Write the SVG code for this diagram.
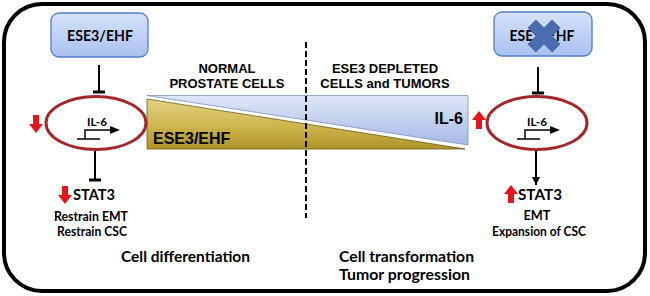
<svg xmlns="http://www.w3.org/2000/svg" width="650" height="296" viewBox="0 0 650 296">
<defs>
<linearGradient id="boxG" x1="0" y1="0" x2="0" y2="1">
<stop offset="0" stop-color="#d6e2fa"/>
<stop offset="1" stop-color="#a9c1f0"/>
</linearGradient>
<linearGradient id="blueG" x1="0" y1="0" x2="0" y2="1">
<stop offset="0" stop-color="#dfe7f8"/>
<stop offset="1" stop-color="#a6b9e6"/>
</linearGradient>
<linearGradient id="goldG" x1="0" y1="0" x2="0" y2="1">
<stop offset="0" stop-color="#e4d384"/>
<stop offset="0.55" stop-color="#cdb44c"/>
<stop offset="1" stop-color="#ae9329"/>
</linearGradient>
<path id="arrDown" d="M4,0 H10 V9 H14 L7,18 L0,9 H4 Z" fill="#e8141b"/>
<path id="arrUp" d="M7,0 L14,9 H10 V18 H4 V9 H0 Z" fill="#e8141b"/>
<marker id="ah" viewBox="0 0 10 10" refX="10" refY="5" markerWidth="4" markerHeight="4" orient="auto" markerUnits="strokeWidth">
<path d="M0,0 L10,5 L0,10 Z" fill="#000"/>
</marker>
</defs>
<style>
.box{fill:url(#boxG);stroke:#4d7ed0;stroke-width:1.3}
.cal{font-family:Lato,"Open Sans","Liberation Sans",sans-serif;font-weight:bold;fill:#000}
.ar{font-family:"Liberation Sans",Arial,sans-serif;font-weight:bold;fill:#000}
.ell{fill:none;stroke:#a3282b;stroke-width:3}
.prom{fill:none;stroke:#000;stroke-width:1.5}
.inh{stroke:#000;stroke-width:2;fill:none}
.bar{stroke:#000;stroke-width:3}
</style>
<rect x="4" y="4" width="641" height="287" rx="38" ry="38" fill="#fff" stroke="#000" stroke-width="4"/>

<g id="header">
<text class="ar" x="227" y="73" font-size="13" text-anchor="middle">NORMAL</text>
<text class="ar" x="227" y="88" font-size="13" text-anchor="middle">PROSTATE CELLS</text>
<text class="ar" x="385" y="73" font-size="13" text-anchor="middle">ESE3 DEPLETED</text>
<text class="ar" x="385" y="88" font-size="13" text-anchor="middle">CELLS and TUMORS</text>
</g>

<g id="gradient-bar">
<polygon points="147,95.5 468,95.5 468,145" fill="url(#blueG)" stroke="#8090b8" stroke-width="0.8"/>
<polygon points="147,99 465,149 147,149" fill="url(#goldG)" stroke="#6b5a18" stroke-width="0.8"/>
<text class="ar" x="153" y="144" font-size="16">ESE3/EHF</text>
<text class="ar" x="463" y="124" font-size="16" text-anchor="end">IL-6</text>
</g>

<line x1="306" y1="42" x2="306" y2="218" stroke="#000" stroke-width="2" stroke-dasharray="6 3"/>

<g id="left-ese3">
<rect class="box" x="51" y="13" width="97" height="44" rx="8"/>
<text class="cal" x="100" y="41" font-size="14.5" text-anchor="middle" textLength="66" lengthAdjust="spacingAndGlyphs">ESE3/EHF</text>
</g>

<g id="left-il6">
<ellipse class="ell" cx="96" cy="123" rx="50" ry="26.5"/>
<text class="cal" x="97" y="126" font-size="10.5" text-anchor="middle" textLength="20" lengthAdjust="spacingAndGlyphs">IL-6</text>
<path class="prom" d="M77,139 H100 M85,139 V130 H112"/>
<path d="M110,126 L120,130 L110,134 Z" fill="#000"/>
<use href="#arrDown" x="29" y="115"/>
</g>

<g id="left-stat3">
<use href="#arrDown" x="58" y="186"/>
<text class="cal" x="73" y="200" font-size="16" textLength="42" lengthAdjust="spacingAndGlyphs">STAT3</text>
<text class="cal" x="91" y="221" font-size="13" text-anchor="middle" textLength="74" lengthAdjust="spacingAndGlyphs">Restrain EMT</text>
<text class="cal" x="92" y="236" font-size="13" text-anchor="middle" textLength="70" lengthAdjust="spacingAndGlyphs">Restrain CSC</text>
</g>

<g id="left-caption">
<text class="cal" x="121" y="262" font-size="16" textLength="129" lengthAdjust="spacingAndGlyphs">Cell differentiation</text>
</g>

<g id="right-ese3">
<rect class="box" x="494" y="12" width="98" height="44" rx="8"/>
<text class="cal" x="542" y="41" font-size="14.5" text-anchor="middle" textLength="65" lengthAdjust="spacingAndGlyphs">ESE3/EHF</text>
<polygon transform="translate(544,36) rotate(45)" points="-5.5,-17 5.5,-17 5.5,-5.5 17,-5.5 17,5.5 5.5,5.5 5.5,17 -5.5,17 -5.5,5.5 -17,5.5 -17,-5.5 -5.5,-5.5" fill="#4a6cb0" stroke="#3b5a98" stroke-width="0.8"/>
</g>

<g id="right-il6">
<ellipse class="ell" cx="537" cy="123" rx="50" ry="26.5"/>
<text class="cal" x="537" y="126" font-size="10.5" text-anchor="middle" textLength="20" lengthAdjust="spacingAndGlyphs">IL-6</text>
<path class="prom" d="M517,139 H540 M525,139 V130 H552"/>
<path d="M550,126 L560,130 L550,134 Z" fill="#000"/>
<use href="#arrUp" x="472" y="111"/>
</g>

<g id="right-stat3">
<use href="#arrUp" x="504" y="185"/>
<text class="cal" x="518" y="200" font-size="16" textLength="44" lengthAdjust="spacingAndGlyphs">STAT3</text>
<text class="cal" x="537" y="220" font-size="13" text-anchor="middle" textLength="27" lengthAdjust="spacingAndGlyphs">EMT</text>
<text class="cal" x="539" y="236" font-size="13" text-anchor="middle" textLength="94" lengthAdjust="spacingAndGlyphs">Expansion of CSC</text>
</g>

<g id="right-caption">
<text class="cal" x="339" y="262" font-size="16" textLength="135" lengthAdjust="spacingAndGlyphs">Cell transformation</text>
<text class="cal" x="339" y="280" font-size="16" textLength="131" lengthAdjust="spacingAndGlyphs">Tumor progression</text>
</g>

<g id="connectors">
<line class="inh" x1="99" y1="65" x2="99" y2="92"/>
<line class="bar" x1="93" y1="92" x2="105" y2="92"/>
<line class="inh" x1="538" y1="67" x2="538" y2="93"/>
<line class="bar" x1="532" y1="93" x2="544" y2="93"/>
<line class="inh" x1="95" y1="151" x2="95" y2="180"/>
<line class="bar" x1="89" y1="180" x2="101" y2="180"/>
<line class="inh" x1="536" y1="151" x2="536" y2="185" marker-end="url(#ah)"/>
</g>
</svg>
